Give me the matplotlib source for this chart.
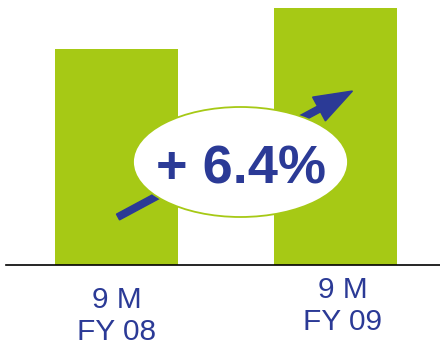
import matplotlib.pyplot as plt
import matplotlib.patches as mpatches
from matplotlib.transforms import blended_transform_factory

plt.rcParams['font.family'] = ['Liberation Sans', 'DejaVu Sans']

# nine-month figures, indexed (FY 08 = 100)
categories = ["9 M\nFY 08", "9 M\nFY 09"]
values = [100.0, 106.4]
growth_label = "+ 6.4%"

green = "#a6c915"
blue = "#2b3a96"

fig = plt.figure(figsize=(4.4, 3.44), dpi=100)
ax = fig.add_axes([6 / 440, 79 / 344, 434 / 440, 265 / 344])

x = range(len(categories))
ax.bar(x, values, width=0.56, color=green, zorder=1)
ax.set_xlim(-0.503, 1.474)
ax.set_ylim(66.28, 107.65)

for s in ["top", "right", "left"]:
    ax.spines[s].set_visible(False)
ax.spines["bottom"].set_color("black")
ax.spines["bottom"].set_linewidth(1.2)
ax.set_xticks([])
ax.set_yticks([])

# category labels under the baseline, two lines each
tr = blended_transform_factory(ax.transData, fig.transFigure)
label_shift = [0.0, 0.03]
label_drop = [0, 10]
for i, lab in enumerate(categories):
    for j, line in enumerate(lab.split("\n")):
        ybase = 308 + j * 32 - label_drop[i]
        ax.text(i + label_shift[i], 1 - ybase / 344, line, transform=tr,
                ha="center", va="baseline", fontsize=21.5, color=blue)

# overlay in pixel units for the growth arrow and the bubble
ov = fig.add_axes([0, 0, 1, 1], facecolor="none")
ov.set_xlim(0, 440)
ov.set_ylim(344, 0)
ov.axis("off")

arrow = mpatches.FancyArrow(118, 217, 201, -108, width=6.5, head_width=27,
                            head_length=38, length_includes_head=False,
                            color=blue, zorder=2)
ov.add_patch(arrow)

bubble = mpatches.Ellipse((240.5, 162), 215, 110, facecolor="white",
                          edgecolor=green, linewidth=1.3, zorder=3)
ov.add_patch(bubble)
ov.text(241, 183, growth_label, ha="center", va="baseline", fontsize=39,
        fontweight="bold", color=blue, zorder=4)

fig.savefig("out.png", dpi=100)
